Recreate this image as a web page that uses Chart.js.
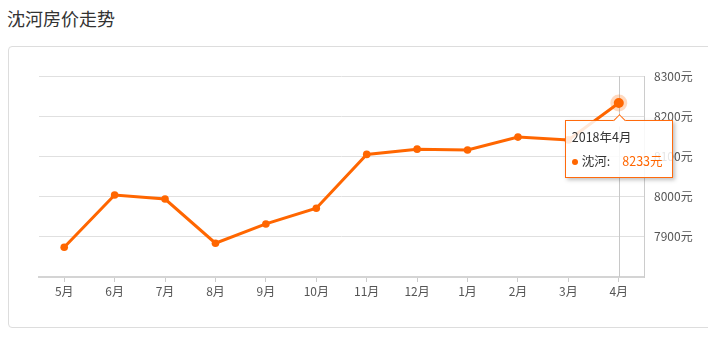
<!DOCTYPE html>
<html>
<head>
<meta charset="utf-8">
<script src="https://cdn.jsdelivr.net/npm/chart.js@4"></script>
<style>
  html, body { margin:0; padding:0; background:#fff; width:708px; height:337px; overflow:hidden; font-family:"Noto Sans CJK SC","Noto Sans",sans-serif; }
  #title { position:absolute; left:7px; top:5px; font-size:18px; color:#333; line-height:26px; }
  #box { position:absolute; left:8px; top:46px; width:720px; height:282px; border:1px solid #ddd; border-radius:4px; box-sizing:border-box; }
  #wrap { position:absolute; left:0; top:0; width:708px; height:337px; }
  #tip { position:absolute; display:none; background:rgba(255,255,255,0.85); border:1px solid #ff6a0c; box-shadow:2px 2px 4px rgba(0,0,0,0.25); width:108px; height:58px; box-sizing:border-box; font-size:12.5px; color:#333; }
  #tip .arrow { position:absolute; top:-5px; width:8px; height:8px; background:#fff; border-left:1px solid #ff6a0c; border-top:1px solid #ff6a0c; transform:rotate(45deg); }
  #tip .t1 { position:absolute; left:6px; top:7px; line-height:18px; }
  #tip .t2 { position:absolute; left:6px; top:31px; line-height:18px; white-space:nowrap; }
  #tip .dot { display:inline-block; width:6px; height:6px; border-radius:3px; background:#ff6600; vertical-align:middle; margin-right:4px; margin-bottom:2px;}
  #tip .val { color:#ff6600; margin-left:12px; }
</style>
</head>
<body>
<div id="title">沈河房价走势</div>
<div id="box"></div>
<div id="wrap"><canvas id="c" width="708" height="337"></canvas></div>
<div id="tip"><div class="arrow"></div><div class="t1"></div><div class="t2"><span class="dot"></span><span class="name"></span><span class="val"></span></div></div>
<script>
const seriesName = '沈河';
const months = ['5月','6月','7月','8月','9月','10月','11月','12月','1月','2月','3月','4月'];
const fullMonths = ['2017年5月','2017年6月','2017年7月','2017年8月','2017年9月','2017年10月','2017年11月','2017年12月','2018年1月','2018年2月','2018年3月','2018年4月'];
const prices = [7874, 8004, 7994, 7884, 7932, 7971, 8105, 8118, 8116, 8148, 8141, 8233];
const yTicks = [7800, 7900, 8000, 8100, 8200, 8300];
const unit = '元';
const activeIndex = 11;

const ORANGE = '#ff6600';

const highlightPlugin = {
  id: 'highlight',
  beforeDatasetsDraw(chart) {
    const ctx = chart.ctx;
    const pt = chart.getDatasetMeta(0).data[activeIndex];
    const area = chart.chartArea;
    ctx.save();
    ctx.strokeStyle = '#c8c8c8';
    ctx.lineWidth = 1;
    ctx.beginPath();
    ctx.moveTo(Math.round(pt.x) + 0.5, area.top);
    ctx.lineTo(Math.round(pt.x) + 0.5, area.bottom);
    ctx.stroke();
    ctx.restore();
  },
  afterDatasetsDraw(chart) {
    const ctx = chart.ctx;
    const pt = chart.getDatasetMeta(0).data[activeIndex];
    ctx.save();
    ctx.fillStyle = 'rgba(255,102,0,0.25)';
    ctx.beginPath();
    ctx.arc(pt.x, pt.y, 8.5, 0, Math.PI * 2);
    ctx.fill();
    ctx.fillStyle = ORANGE;
    ctx.beginPath();
    ctx.arc(pt.x, pt.y, 5, 0, Math.PI * 2);
    ctx.fill();
    ctx.restore();
  },
  afterRender(chart) {
    const pt = chart.getDatasetMeta(0).data[activeIndex];
    const tip = document.getElementById('tip');
    tip.querySelector('.t1').textContent = fullMonths[activeIndex];
    tip.querySelector('.name').textContent = seriesName + ':';
    tip.querySelector('.val').textContent = prices[activeIndex] + unit;
    tip.style.display = 'block';
    const w = 108;
    tip.style.left = (pt.x - w / 2) + 'px';
    tip.style.top = (pt.y + 17) + 'px';
    tip.querySelector('.arrow').style.left = (w / 2 - 5) + 'px';
  }
};

new Chart(document.getElementById('c'), {
  type: 'line',
  data: {
    labels: months,
    datasets: [{
      label: seriesName,
      data: prices,
      borderColor: ORANGE,
      backgroundColor: ORANGE,
      borderWidth: 3,
      pointRadius: 3.8,
      pointBorderWidth: 0,
      pointBackgroundColor: ORANGE,
      tension: 0,
      fill: false
    }]
  },
  options: {
    responsive: false,
    animation: false,
    events: [],
    layout: { padding: { left: 39, top: 76, right: 0, bottom: 0 } },
    plugins: { legend: { display: false }, tooltip: { enabled: false } },
    scales: {
      x: {
        type: 'category',
        offset: true,
        afterFit(s) { s.height = 60; },
        grid: { drawOnChartArea: false, drawTicks: true, tickLength: 5, color: '#cccccc', lineWidth: 1, offset: false },
        border: { display: true, color: '#d4d4d4', width: 2 },
        ticks: { color: '#555', font: { size: 12, family: '"Noto Sans CJK SC", sans-serif' }, padding: 2, maxRotation: 0, autoSkip: false }
      },
      y: {
        position: 'right',
        min: yTicks[0],
        max: yTicks[yTicks.length - 1],
        afterFit(s) { s.width = 64; },
        afterBuildTicks(s) { s.ticks = yTicks.map(v => ({ value: v })); },
        grid: { color: '#e0e0e0', lineWidth: 1, drawTicks: false },
        border: { display: true, color: '#cccccc', width: 1 },
        ticks: {
          color: '#555',
          font: { size: 12, family: '"Noto Sans CJK SC", sans-serif' },
          padding: 10,
          callback: (v) => v === yTicks[0] ? '' : v + unit
        }
      }
    }
  },
  plugins: [highlightPlugin]
});
</script>
</body>
</html>
